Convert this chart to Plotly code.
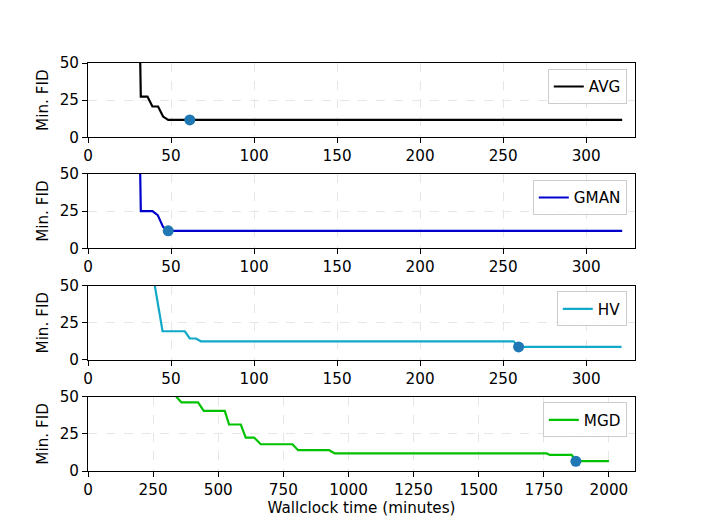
import plotly.graph_objects as go

# step curves (minutes, min. FID)
avg_t = [30.7, 31.8, 35.8, 38.8, 42.2, 45.2, 48.3, 321.7]
avg_fid = [100, 27.4, 27.4, 20.7, 20.7, 13.9, 11.7, 11.7]
avg_best = ([61.3], [11.7])

gman_t = [30.7, 31.8, 38.8, 42.0, 45.2, 48.3, 321.7]
gman_fid = [100, 25.0, 25.0, 22.3, 14.4, 11.7, 11.7]
gman_best = ([48.3], [11.7])

hv_t = [37.2, 44.9, 58.3, 61.3, 65.0, 68.0, 256.3, 259.3, 321.3]
hv_fid = [70, 19.2, 19.2, 14.3, 14.3, 12.4, 12.4, 8.6, 8.6]
hv_best = ([259.3], [8.6])

mgd_t = [336, 339.5, 358.7, 422.5, 444.4, 525, 541.6, 586.5, 605.7, 637.6,
         663.3, 785, 806.6, 925.7, 947.6, 1760.7, 1773.4, 1856.7, 1876, 2000]
mgd_fid = [55, 50, 46.2, 46.2, 40.5, 40.5, 31.3, 31.3, 22.5, 22.5,
           18.0, 18.0, 14.0, 14.0, 11.8, 11.8, 10.8, 10.8, 6.6, 6.6]
mgd_best = ([1873], [6.5])

names = ["AVG", "GMAN", "HV", "MGD"]
colors = ["#000000", "#0000cc", "#12a9c9", "#00c200"]
series = [(avg_t, avg_fid, avg_best), (gman_t, gman_fid, gman_best),
          (hv_t, hv_fid, hv_best), (mgd_t, mgd_fid, mgd_best)]

domains = [[0.818, 1.0], [0.546, 0.728], [0.273, 0.454], [0.0, 0.182]]
legend_y = [0.985, 0.713, 0.44, 0.168]
x_ranges = [[0, 329.4], [0, 329.4], [0, 329.4], [0, 2100]]
x_ticks = [list(range(0, 301, 50))] * 3 + [list(range(0, 2001, 250))]

font = dict(family="DejaVu Sans", size=15.2, color="black")

fig = go.Figure()
layout = dict(
    width=706, height=529,
    margin=dict(l=80.3, r=79, t=55.3, b=66.3),
    plot_bgcolor="white", paper_bgcolor="white",
    font=font, showlegend=True,
)

for i, (t, fid, best) in enumerate(series):
    n = "" if i == 0 else str(i + 1)
    leg = "legend" + n
    fig.add_trace(go.Scatter(
        x=t, y=fid, mode="lines", name=names[i],
        line=dict(color=colors[i], width=2.2),
        xaxis="x" + n, yaxis="y" + n, legend=leg,
    ))
    fig.add_trace(go.Scatter(
        x=best[0], y=best[1], mode="markers", showlegend=False,
        marker=dict(color="#1f77b4", size=11),
        xaxis="x" + n, yaxis="y" + n,
    ))
    axis_style = dict(
        showline=True, mirror=True, linecolor="black", linewidth=1,
        ticks="outside", ticklen=5, tickcolor="black",
        showgrid=True, gridcolor="#e6e6e6", griddash="dash", gridwidth=1,
        zeroline=False, tickfont=font,
    )
    layout["xaxis" + n] = dict(
        axis_style, range=x_ranges[i], tickvals=x_ticks[i],
        anchor="y" + n, domain=[0, 1],
    )
    layout["yaxis" + n] = dict(
        axis_style, range=[0, 50], tickvals=[0, 25, 50],
        anchor="x" + n, domain=domains[i],
        title=dict(text="Min. FID", font=font, standoff=7),
    )
    layout[leg] = dict(
        x=0.985, y=legend_y[i], xanchor="right", yanchor="top",
        bgcolor="rgba(255,255,255,0.8)", bordercolor="#cccccc", borderwidth=1,
        font=font, itemwidth=30,
    )

layout["xaxis4"]["title"] = dict(text="Wallclock time (minutes)", font=font, standoff=3)

fig.update_layout(**layout)
fig.write_html("out.html")
